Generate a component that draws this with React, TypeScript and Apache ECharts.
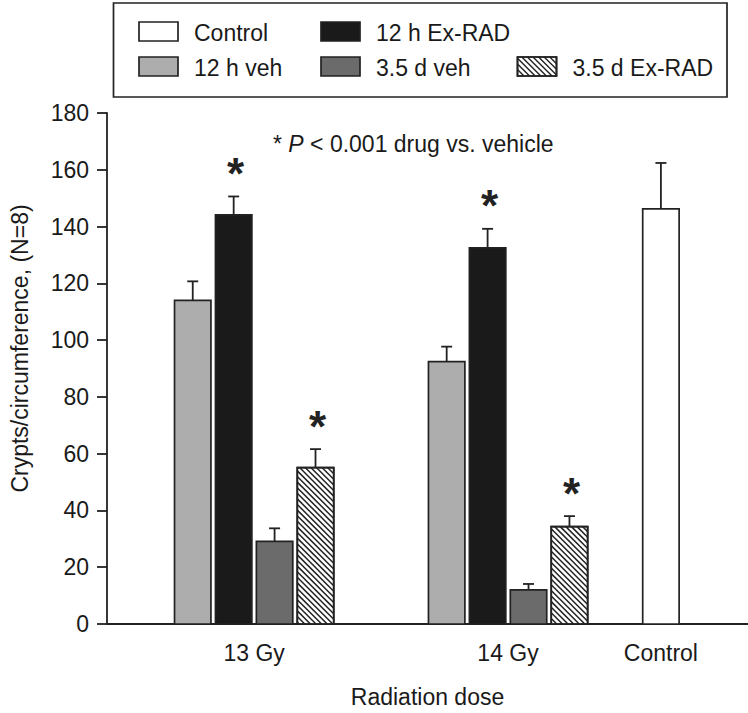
import React, { useEffect, useRef } from "react";
import * as echarts from "echarts";

const FONT = '"Liberation Sans", Arial, Helvetica, sans-serif';
const INK = "#222222";
const FS = 23;

// categories and their positions along the x axis (in bar-slot units)
const groupLabels = ["13 Gy", "14 Gy", "Control"];
const groupPos = [3.595, 9.8, 13.535];
const xMax = 15.663;

// values (crypts/circumference) and SEM
const veh12 = [114.0, 92.4];
const veh12Err = [6.7, 5.3];
const exrad12 = [144.1, 132.5];
const exrad12Err = [6.5, 6.7];
const veh35 = [29.1, 12.0];
const veh35Err = [4.6, 2.1];
const exrad35 = [55.1, 34.3];
const exrad35Err = [6.5, 3.7];
const controlVal = [146.2];
const controlErr = [16.2];
const sig12 = [1, 1];
const sig35 = [1, 1];

const yTicks = { min: 0, max: 180, interval: 20 };

type SeriesDef = {
  name: string;
  values: number[];
  errs: number[];
  sig: number[];
  groups: number[];
  offset: number;
  fill: string;
  hatch: boolean;
};

const seriesDefs: SeriesDef[] = [
  { name: "12 h veh", values: veh12, errs: veh12Err, sig: [0, 0], groups: [0, 1], offset: -1.5, fill: "#adadad", hatch: false },
  { name: "12 h Ex-RAD", values: exrad12, errs: exrad12Err, sig: sig12, groups: [0, 1], offset: -0.5, fill: "#1a1a1a", hatch: false },
  { name: "3.5 d veh", values: veh35, errs: veh35Err, sig: [0, 0], groups: [0, 1], offset: 0.5, fill: "#6b6b6b", hatch: false },
  { name: "3.5 d Ex-RAD", values: exrad35, errs: exrad35Err, sig: sig35, groups: [0, 1], offset: 1.5, fill: "#ffffff", hatch: true },
  { name: "Control", values: controlVal, errs: controlErr, sig: [0], groups: [2], offset: 0, fill: "#ffffff", hatch: false },
];

function hatchLines(x0: number, y0: number, x1: number, y1: number, d: number) {
  const segs: any[] = [];
  const cStart = Math.ceil((y0 - x1) / d) * d;
  for (let c = cStart; c <= y1 - x0; c += d) {
    const lo = Math.max(x0, y0 - c);
    const hi = Math.min(x1, y1 - c);
    if (hi - lo > 0.4) segs.push({ x1: lo, y1: lo + c, x2: hi, y2: hi + c });
  }
  return segs;
}

function makeRenderItem(def: SeriesDef) {
  return (params: any, api: any) => {
    const xv = api.value(0);
    const yv = api.value(1);
    const ev = api.value(2);
    const sig = api.value(3);
    const p0 = api.coord([xv, 0]);
    const p1 = api.coord([xv, yv]);
    const p2 = api.coord([xv, yv + ev]);
    const slot = api.size([1, 0])[0];
    const w = slot * 0.89;
    const cx = p0[0];
    const x0 = cx - w / 2;
    const children: any[] = [];
    children.push({
      type: "rect",
      shape: { x: x0, y: p1[1], width: w, height: p0[1] - p1[1] },
      style: { fill: def.fill, stroke: INK, lineWidth: 1.7 },
    });
    if (def.hatch) {
      hatchLines(x0, p1[1], x0 + w, p0[1], 5.6).forEach((s) =>
        children.push({ type: "line", shape: s, style: { stroke: INK, lineWidth: 1.5 } })
      );
      children.push({
        type: "rect",
        shape: { x: x0, y: p1[1], width: w, height: p0[1] - p1[1] },
        style: { fill: "none", stroke: INK, lineWidth: 1.7 },
      });
    }
    children.push({
      type: "line",
      shape: { x1: cx, y1: p1[1], x2: cx, y2: p2[1] },
      style: { stroke: INK, lineWidth: 1.8 },
    });
    children.push({
      type: "line",
      shape: { x1: cx - 5.5, y1: p2[1], x2: cx + 5.5, y2: p2[1] },
      style: { stroke: INK, lineWidth: 1.8 },
    });
    if (sig) {
      children.push({
        type: "text",
        x: cx + 2,
        y: p2[1] - 23,
        style: {
          text: "*",
          fontSize: 44,
          fontWeight: "bold",
          fontFamily: FONT,
          fill: INK,
          align: "center",
          verticalAlign: "middle",
          textAlign: "center",
          textVerticalAlign: "middle",
        },
      });
    }
    return { type: "group", children };
  };
}

// legend layout (decoration)
const legendItems = [
  { def: 4, col: 0, row: 0 },
  { def: 1, col: 1, row: 0 },
  { def: 0, col: 0, row: 1 },
  { def: 2, col: 1, row: 1 },
  { def: 3, col: 2, row: 1 },
];
const legendColX = [139, 321, 517.5];
const legendRowY = [22, 57];

function buildLegend() {
  const els: any[] = [];
  els.push({
    type: "rect",
    shape: { x: 113.5, y: 3, width: 613.5, height: 94 },
    style: { fill: "#ffffff", stroke: INK, lineWidth: 1.7 },
  });
  legendItems.forEach((it) => {
    const def = seriesDefs[it.def];
    const x = legendColX[it.col];
    const y = legendRowY[it.row];
    const w = 39;
    const h = 19;
    els.push({
      type: "rect",
      shape: { x, y, width: w, height: h },
      style: { fill: def.fill, stroke: INK, lineWidth: 1.7 },
    });
    if (def.hatch) {
      hatchLines(x, y, x + w, y + h, 5.6).forEach((s) =>
        els.push({ type: "line", shape: s, style: { stroke: INK, lineWidth: 1.4 } })
      );
      els.push({
        type: "rect",
        shape: { x, y, width: w, height: h },
        style: { fill: "none", stroke: INK, lineWidth: 1.7 },
      });
    }
    els.push({
      type: "text",
      x: x + 55,
      y: y + h / 2 + 1,
      style: {
        text: def.name,
        fontSize: FS,
        fontFamily: FONT,
        fill: "#1a1a1a",
        align: "left",
        verticalAlign: "middle",
        textAlign: "left",
        textVerticalAlign: "middle",
      },
    });
  });
  els.push({
    type: "text",
    x: 273,
    y: 144,
    style: {
      text: "{a|* }{b|P}{a| < 0.001 drug vs. vehicle}",
      fontSize: FS,
      fontFamily: FONT,
      fill: "#1a1a1a",
      align: "left",
      verticalAlign: "middle",
      textAlign: "left",
      textVerticalAlign: "middle",
      rich: {
        a: { fontSize: FS, fontFamily: FONT, fill: "#1a1a1a" },
        b: { fontSize: FS, fontFamily: FONT, fontStyle: "italic", fill: "#1a1a1a" },
      },
    },
  });
  return els;
}

export default function App() {
  const ref = useRef<HTMLDivElement>(null);
  useEffect(() => {
    if (!ref.current) return;
    const chart = echarts.init(ref.current, undefined, { renderer: "svg" });
    const series = seriesDefs.map((def) => ({
      type: "custom",
      name: def.name,
      renderItem: makeRenderItem(def),
      encode: { x: 0, y: 1 },
      data: def.values.map((v, i) => [groupPos[def.groups[i]] + def.offset, v, def.errs[i], def.sig[i]]),
      clip: false,
    }));
    chart.setOption({
      animation: false,
      backgroundColor: "#ffffff",
      textStyle: { fontFamily: FONT },
      grid: { left: 98, right: 0, top: 113, bottom: 84, containLabel: false },
      xAxis: {
        type: "value",
        min: 0,
        max: xMax,
        name: "Radiation dose",
        nameLocation: "middle",
        nameGap: 61,
        nameTextStyle: { fontSize: FS, color: "#1a1a1a", fontFamily: FONT },
        splitLine: { show: false },
        axisTick: { show: false },
        axisLine: { show: true, lineStyle: { color: INK, width: 1.8 } },
        axisLabel: {
          customValues: groupPos,
          fontSize: FS,
          color: "#1a1a1a",
          fontFamily: FONT,
          margin: 17,
          formatter: (v: number) => {
            let best = 0;
            groupPos.forEach((p, i) => {
              if (Math.abs(p - v) < Math.abs(groupPos[best] - v)) best = i;
            });
            return Math.abs(groupPos[best] - v) < 0.01 ? groupLabels[best] : "";
          },
        },
      },
      yAxis: {
        type: "value",
        min: yTicks.min,
        max: yTicks.max,
        interval: yTicks.interval,
        name: "Crypts/circumference, (N=8)",
        nameLocation: "middle",
        nameGap: 76,
        nameTextStyle: { fontSize: FS, color: "#1a1a1a", fontFamily: FONT, padding: [0, 0, 0, 40] },
        splitLine: { show: false },
        axisLine: { show: true, lineStyle: { color: INK, width: 1.8 } },
        axisTick: { show: true, length: 10, lineStyle: { color: INK, width: 1.8 } },
        axisLabel: { fontSize: FS, color: "#1a1a1a", fontFamily: FONT, margin: 18 },
      },
      graphic: buildLegend(),
      series,
    });
    return () => chart.dispose();
  }, []);
  return (
    <div
      ref={ref}
      style={{ position: "absolute", left: 0, top: 0, width: 748, height: 713, background: "#fff" }}
    />
  );
}
